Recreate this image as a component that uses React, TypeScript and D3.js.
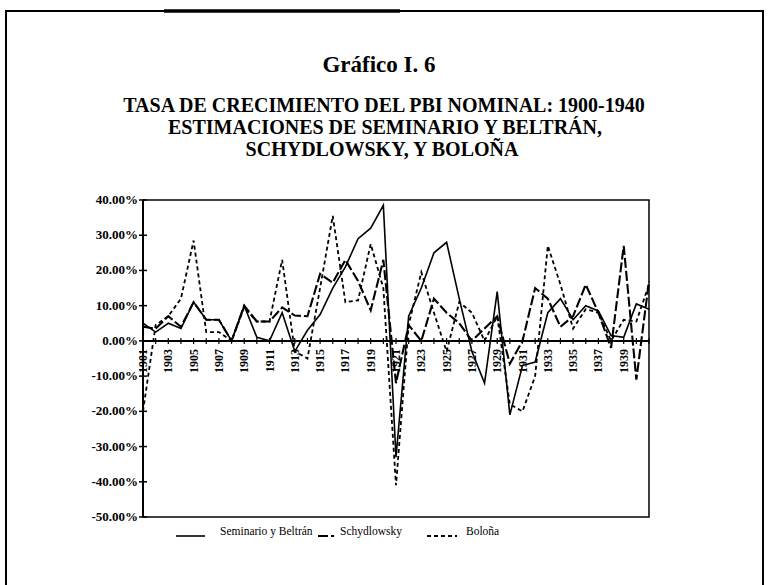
import * as d3 from 'd3';
import React from 'react';

// years on the category axis
const years = d3.range(1901, 1942);
const yearLabels = d3.range(1901, 1940, 2);
const yTicks = [40, 30, 20, 10, 0, -10, -20, -30, -40, -50];
const yTickLabels = ['40.00%', '30.00%', '20.00%', '10.00%', '0.00%', '-10.00%', '-20.00%', '-30.00%', '-40.00%', '-50.00%'];

// growth rates in %
const seminario = [5, 2.5, 5, 3.5, 11, 6, 6, 0, 10, 1, 0, 8, -3, 3, 7.5, 15, 21, 29, 32, 38.5,
  -33, 7, 15, 25, 28, 12, -3, -12, 14, -21, -7, -6, 8, 12, 6, 10, 8.5, 1.5, 1, 10.5, 9];
const schydlowsky = [4, 3.5, 7, 4, 11, 6, 6, 0, 10, 5.5, 5.5, 9.5, 7.2, 7, 19, 16.5, 23, 17, 8.7, 23,
  -12, 4.5, 0, 12, 8, 5, 0, 3.5, 7, -6.5, 0, 15, 12, 4, 7, 16, 8, -2, 27, -11, 17];
const bolona = [-20, 4.5, 7, 12, 28.5, 2.5, 2.5, 0, 9.5, 5.5, 5.5, 23, -3, -5, 15, 35.5, 11, 11.5, 27.5, 15,
  -41, 4.5, 19.5, 8, -3, 11, 8, 0, 7, -18, -20, -10, 27, 16, 3.5, 9, 8, 0, 6, 5.5, 16];

const seriesNames = ['Seminario y Beltrán', 'Schydlowsky', 'Boloña'];

const W = 769, H = 585;
const font = '"Liberation Serif", "Times New Roman", serif';

export default function App() {
  const x = d3.scaleLinear().domain([1901, 1941]).range([143, 649]);
  const y = d3.scaleLinear().domain([-50, 40]).range([517, 200]);

  const line = d3.line<number>()
    .x((d, i) => x(years[i]))
    .y(d => y(d));

  const series = [
    { name: seriesNames[0], values: seminario, dash: 'none', width: 1.6 },
    { name: seriesNames[1], values: schydlowsky, dash: '10,3', width: 2.1 },
    { name: seriesNames[2], values: bolona, dash: '4,3', width: 1.8 },
  ];

  const legendX = [176, 318, 427];
  const legendLen = [29, 16, 30];
  const legendTextX = [220, 340, 466];

  return (
    <svg width={W} height={H} style={{ position: 'absolute', left: 0, top: 0, background: '#fff' }}
      fontFamily={font}>
      {/* outer frame */}
      <path d="M6,585 V11 H763 V585" fill="none" stroke="#000" strokeWidth={2} />
      <line x1={164} x2={400} y1={11} y2={11} stroke="#000" strokeWidth={3.5} />

      {/* titles */}
      <g fontWeight="bold" textAnchor="middle" fill="#000">
        <text x={379} y={72} fontSize={23}>Gráfico I. 6</text>
        <text x={384} y={112} fontSize={20}>TASA DE CRECIMIENTO DEL PBI NOMINAL: 1900-1940</text>
        <text x={385} y={134} fontSize={20}>ESTIMACIONES DE SEMINARIO Y BELTRÁN,</text>
        <text x={382} y={156} fontSize={20}>SCHYDLOWSKY, Y BOLOÑA</text>
      </g>

      {/* plot box */}
      <rect x={143} y={200} width={506} height={317} fill="none" stroke="#000" strokeWidth={1.5} />
      <line x1={143} x2={143} y1={200} y2={517} stroke="#000" strokeWidth={2} />

      {/* y axis ticks and labels */}
      {yTicks.map((t, i) => (
        <g key={t}>
          <line x1={139} x2={147} y1={y(t)} y2={y(t)} stroke="#000" strokeWidth={1.5} />
          <text x={138} y={y(t) + 4} textAnchor="end" fontSize={13} fontWeight="bold">{yTickLabels[i]}</text>
        </g>
      ))}

      {/* zero line with ticks */}
      <line x1={143} x2={649} y1={y(0)} y2={y(0)} stroke="#000" strokeWidth={2} />
      {years.map(yr => (
        <line key={yr} x1={x(yr)} x2={x(yr)} y1={y(0) - 3} y2={y(0) + 3} stroke="#000" strokeWidth={1.2} />
      ))}
      {yearLabels.map(yr => (
        <text key={yr} transform={`translate(${x(yr) + 4},${y(0) + 8}) rotate(-90)`} textAnchor="end"
          fontSize={12} fontWeight="bold">{yr}</text>
      ))}

      {/* series */}
      {series.map(s => (
        <path key={s.name} d={line(s.values) || ''} fill="none" stroke="#000" strokeWidth={s.width}
          strokeDasharray={s.dash === 'none' ? undefined : s.dash} strokeLinejoin="miter" />
      ))}

      {/* legend */}
      {series.map((s, i) => (
        <g key={s.name}>
          <line x1={legendX[i]} x2={legendX[i] + legendLen[i]} y1={536} y2={536} stroke="#000"
            strokeWidth={s.width} strokeDasharray={s.dash === 'none' ? undefined : s.dash} />
          <text x={legendTextX[i]} y={535} fontSize={11.5}>{s.name}</text>
        </g>
      ))}
    </svg>
  );
}
